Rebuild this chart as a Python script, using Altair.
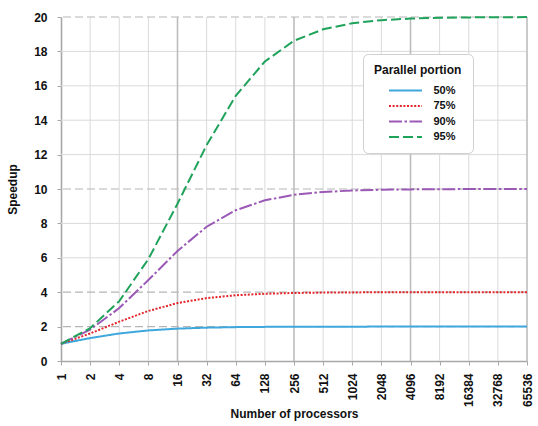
import altair as alt
import pandas as pd

# Amdahl's law speedup, read at each processor count
processors = [1, 2, 4, 8, 16, 32, 64, 128, 256, 512, 1024, 2048, 4096,
              8192, 16384, 32768, 65536]
speedup_50 = [1.0, 1.333, 1.6, 1.778, 1.882, 1.939, 1.969, 1.984, 1.992,
              1.996, 1.998, 1.999, 2.0, 2.0, 2.0, 2.0, 2.0]
speedup_75 = [1.0, 1.6, 2.286, 2.909, 3.368, 3.657, 3.821, 3.908, 3.954,
              3.977, 3.988, 3.994, 3.997, 3.999, 3.999, 4.0, 4.0]
speedup_90 = [1.0, 1.818, 3.077, 4.706, 6.4, 7.805, 8.767, 9.343, 9.66,
              9.827, 9.913, 9.956, 9.978, 9.989, 9.995, 9.997, 9.999]
speedup_95 = [1.0, 1.905, 3.478, 5.926, 9.143, 12.549, 15.422, 17.414,
              18.618, 19.284, 19.636, 19.817, 19.908, 19.954, 19.977,
              19.988, 19.994]

portions = ["50%", "75%", "90%", "95%"]
colors = ["#3ea8dc", "#e3252b", "#9b59b6", "#1fa25a"]
dashes = [[1, 0], [2, 1.6], [13, 2.5, 2.5, 2.5], [10, 4]]

y_ticks = [0, 2, 4, 6, 8, 10, 12, 14, 16, 18, 20]
y_grid_minor = [6, 8, 12, 14, 16, 18]
y_grid_major = [2, 4, 10, 20]
x_grid_major = [16, 256, 4096, 65536]
x_grid_minor = [n for n in processors if n not in x_grid_major and n != 1]

series = [speedup_50, speedup_75, speedup_90, speedup_95]
df = pd.DataFrame([
    {"n": n, "speedup": s, "portion": p}
    for p, vals in zip(portions, series)
    for n, s in zip(processors, vals)
])

x_scale = alt.Scale(type="log", base=2, domain=[1, 65536], nice=False)
y_scale = alt.Scale(domain=[0, 20], nice=False)
x_axis = alt.Axis(values=processors, format="d", labelAngle=270,
                  labelOverlap=False, title="Number of processors",
                  titlePadding=2, labelPadding=8)
y_axis = alt.Axis(values=y_ticks, title="Speedup", titlePadding=14,
                  labelOverlap=False, labelPadding=10)

# grid lines drawn as rules; solid light ones and darker dashed asymptotes
hmin = alt.Chart(pd.DataFrame({"y": y_grid_minor})).mark_rule(
    color="#dadada", strokeWidth=1
).encode(y=alt.Y("y:Q", scale=y_scale, axis=y_axis))
hmaj = alt.Chart(pd.DataFrame({"y": y_grid_major})).mark_rule(
    color="#b5b5b5", strokeWidth=1.2, strokeDash=[8, 4]
).encode(y=alt.Y("y:Q", scale=y_scale, axis=y_axis))
vmin = alt.Chart(pd.DataFrame({"x": x_grid_minor})).mark_rule(
    color="#dadada", strokeWidth=1
).encode(x=alt.X("x:Q", scale=x_scale, axis=x_axis))
vmaj = alt.Chart(pd.DataFrame({"x": x_grid_major})).mark_rule(
    color="#bdbdbd", strokeWidth=1.6
).encode(x=alt.X("x:Q", scale=x_scale, axis=x_axis))

legend_title = "Parallel portion\u2003"
lines = alt.Chart(df).mark_line(strokeWidth=2, interpolate="linear").encode(
    x=alt.X("n:Q", scale=x_scale, axis=x_axis),
    y=alt.Y("speedup:Q", scale=y_scale, axis=y_axis),
    color=alt.Color("portion:N", scale=alt.Scale(domain=portions, range=colors),
                    title=legend_title),
    strokeDash=alt.StrokeDash("portion:N",
                              scale=alt.Scale(domain=portions, range=dashes),
                              title=legend_title),
)

chart = alt.layer(hmin, vmin, hmaj, vmaj, lines).properties(
    width=466, height=344,
    autosize=alt.AutoSizeParams(type="none"),
    padding={"left": 61, "top": 17, "right": 11, "bottom": 65},
).configure_view(strokeWidth=0).configure_axis(
    grid=False,
    labelFont="Liberation Sans", labelFontSize=12, labelFontWeight="bold",
    labelColor="#111111",
    titleFont="Liberation Sans", titleFontSize=12, titleFontWeight="bold",
    titleColor="#111111",
    domainColor="#a8a8a8", domainWidth=1.6,
    tickColor="#a8a8a8", tickSize=4,
).configure_legend(
    orient="none", legendX=302, legendY=37,
    fillColor="white", strokeColor="#d0d0d0", cornerRadius=5, padding=11,
    titleFont="Liberation Sans", titleFontSize=12, titleFontWeight="bold",
    titleColor="#111111", titlePadding=4,
    labelFont="Liberation Sans", labelFontSize=11, labelFontWeight="bold",
    labelColor="#111111", labelOffset=18.5,
    symbolType="M-2,0H2", symbolSize=272, symbolStrokeWidth=2,
    symbolOffset=22, rowPadding=0.5,
)

chart.save("out.html", embed_options={"renderer": "svg", "actions": False})
